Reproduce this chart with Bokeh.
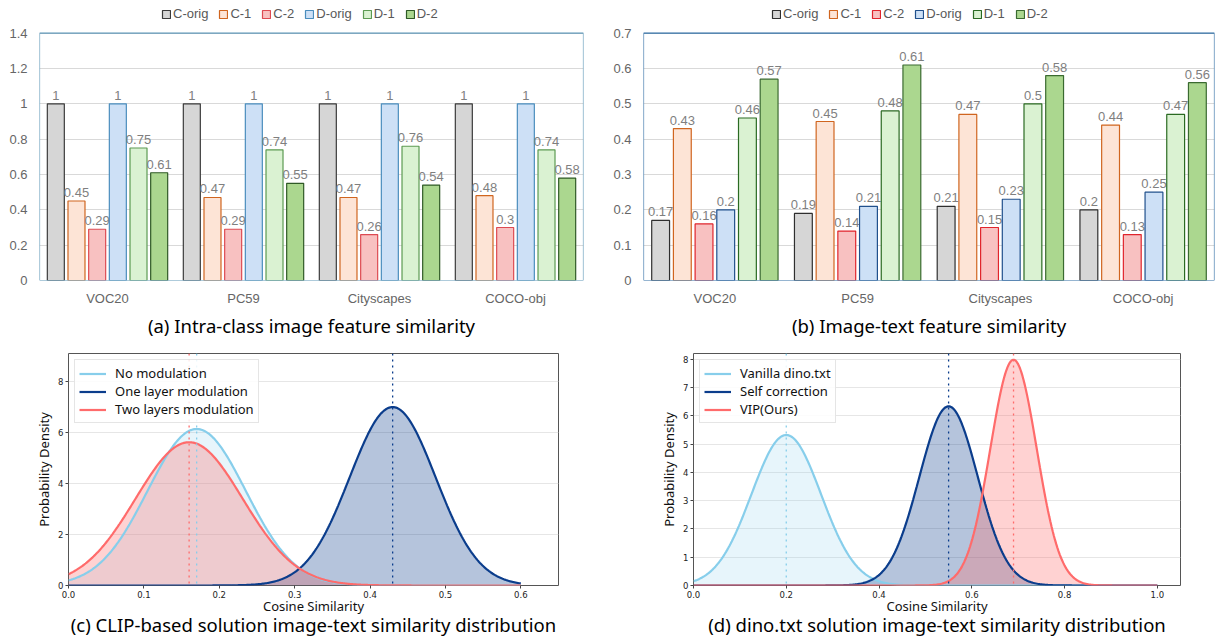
import numpy as np
from bokeh.plotting import figure
from bokeh.models import (FactorRange, Range1d, ColumnDataSource, Legend, LegendItem,
                          Span, NumeralTickFormatter, FixedTicker, BoxAnnotation, LinearAxis)
from bokeh.transform import dodge
from bokeh.layouts import row, column
from bokeh.embed import file_html
from bokeh.resources import INLINE
from bokeh.core.properties import value

# ---------------- data ----------------
datasets = ["VOC20", "PC59", "Cityscapes", "COCO-obj"]
series = ["C-orig", "C-1", "C-2", "D-orig", "D-1", "D-2"]

# (a) intra-class image feature similarity
intra_c_orig = [1, 1, 1, 1]
intra_c_1 = [0.45, 0.47, 0.47, 0.48]
intra_c_2 = [0.29, 0.29, 0.26, 0.3]
intra_d_orig = [1, 1, 1, 1]
intra_d_1 = [0.75, 0.74, 0.76, 0.74]
intra_d_2 = [0.61, 0.55, 0.54, 0.58]
intra_ticks = [0, 0.2, 0.4, 0.6, 0.8, 1.0, 1.2, 1.4]

# (b) image-text feature similarity
it_c_orig = [0.17, 0.19, 0.21, 0.2]
it_c_1 = [0.43, 0.45, 0.47, 0.44]
it_c_2 = [0.16, 0.14, 0.15, 0.13]
it_d_orig = [0.2, 0.21, 0.23, 0.25]
it_d_1 = [0.46, 0.48, 0.5, 0.47]
it_d_2 = [0.57, 0.61, 0.58, 0.56]
it_ticks = [0, 0.1, 0.2, 0.3, 0.4, 0.5, 0.6, 0.7]

# (c) CLIP-based distributions (normal: mean, std)
clip_names = ["No modulation", "One layer modulation", "Two layers modulation"]
clip_means = [0.17, 0.43, 0.16]
clip_sds = [0.065, 0.057, 0.071]
clip_xticks = [0.0, 0.1, 0.2, 0.3, 0.4, 0.5, 0.6]
clip_yticks = [0, 2, 4, 6, 8]

# (d) dino.txt distributions (normal: mean, std)
dino_names = ["Vanilla dino.txt", "Self correction", "VIP(Ours)"]
dino_means = [0.20, 0.55, 0.69]
dino_sds = [0.075, 0.063, 0.050]
dino_xticks = [0.0, 0.2, 0.4, 0.6, 0.8, 1.0]
dino_yticks = [0, 1, 2, 3, 4, 5, 6, 7, 8]

# ---------------- styles ----------------
BAR_FILLS = ["#d6d6d6", "#fde4d6", "#f8c1c1", "#cde0f6", "#daf2d2", "#abd78f"]
LINES_A = ["#3a3a3a", "#d0651f", "#dd4a52", "#4a8dbd", "#5c9a52", "#2f5a26"]
LINES_B = ["#2e2e2e", "#d0651f", "#e0242c", "#20508c", "#2a6a22", "#3a6a30"]
CURVE_COLS = ["#87CEEB", "#0b3d8c", "#FF6B6B"]
CURVE_ALPHA = [0.2, 0.3, 0.3]
PITCH = 0.152
BARW = 0.125
XFONT = "Liberation Sans"
CAPFONT = "Noto Sans"
CAPSIZE = "18.5px"


def bar_panel(vals, ymax, ticks, frame_col, line_cols, caption, width, height,
              mbl, mbr, top_px, bottom_px, leg_x):
    # extend the range above ymax so the legend row sits inside the canvas top
    frame_h = bottom_px - 5
    ytop = ymax * frame_h / (bottom_px - top_px)
    p = figure(x_range=FactorRange(*datasets), y_range=Range1d(0, ytop), title=None,
               width=width, height=height, output_backend="svg", toolbar_location=None,
               min_border_left=mbl, min_border_right=mbr, min_border_top=5,
               min_border_bottom=height - bottom_px)
    items = []
    for i, s in enumerate(series):
        src = ColumnDataSource(dict(x=datasets, top=vals[i],
                                    label=[f"{v:g}" for v in vals[i]]))
        off = (i - 2.5) * PITCH
        r = p.vbar(x=dodge("x", off, range=p.x_range), top="top", bottom=0, width=BARW,
                   fill_color=BAR_FILLS[i], line_color=line_cols[i], line_width=1.2,
                   source=src)
        p.text(x=dodge("x", off, range=p.x_range), y="top", text="label", source=src,
               text_align="center", text_baseline="bottom", y_offset=-4,
               text_font_size="13px", text_color="#7f7f7f", text_font=value(XFONT))
        items.append(LegendItem(label=s, renderers=[r]))
    leg = Legend(items=items, orientation="horizontal", location=(leg_x, frame_h - 19),
                 glyph_width=10, glyph_height=10, label_height=10, label_standoff=2,
                 spacing=10, padding=0, margin=0, border_line_color=None,
                 background_fill_alpha=0, label_text_font_size="13px",
                 label_text_color="#595959", label_text_font=XFONT)
    p.add_layout(leg)
    p.add_layout(BoxAnnotation(bottom=0, top=ymax, fill_alpha=0, line_color=frame_col,
                               line_width=1.2, line_alpha=1))
    p.outline_line_color = None
    p.xgrid.visible = False
    p.ygrid.grid_line_color = "#d9d9d9"
    p.ygrid.grid_line_width = 1
    p.yaxis.ticker = FixedTicker(ticks=ticks)
    p.yaxis.formatter = NumeralTickFormatter(format="0.[0]")
    for ax in (p.xaxis, p.yaxis):
        ax.axis_line_color = None
        ax.major_tick_line_color = None
        ax.minor_tick_line_color = None
        ax.major_tick_out = 0
        ax.major_tick_in = 0
        ax.major_label_text_font_size = "13px"
        ax.major_label_text_color = "#666666"
        ax.major_label_text_font = XFONT
    p.yaxis.major_label_standoff = 12
    p.xaxis.major_label_standoff = 10
    p.xaxis.axis_label = caption
    p.xaxis.axis_label_standoff = 4
    p.xaxis.axis_label_text_font = CAPFONT
    p.xaxis.axis_label_text_font_size = CAPSIZE
    p.xaxis.axis_label_text_font_style = "normal"
    p.xaxis.axis_label_text_color = "black"
    return p


def dist_panel(names, means, sds, xmax_data, xmax, ymax, xticks, yticks, caption,
               width, height, mbl, mbr, mbt, mbb, cap_bounds):
    p = figure(x_range=Range1d(0, xmax), y_range=Range1d(0, ymax), title=None,
               width=width, height=height, output_backend="svg", toolbar_location=None,
               min_border_left=mbl, min_border_right=mbr, min_border_top=mbt,
               min_border_bottom=mbb)
    xs = np.linspace(0, xmax_data, 400)
    curves = [np.exp(-0.5 * ((xs - means[i]) / sds[i]) ** 2) / (sds[i] * np.sqrt(2 * np.pi))
              for i in range(len(names))]
    for i in range(len(names)):
        p.varea(x=xs, y1=0, y2=curves[i], fill_color=CURVE_COLS[i], fill_alpha=CURVE_ALPHA[i])
    items = []
    for i, nm in enumerate(names):
        r = p.line(xs, curves[i], line_color=CURVE_COLS[i], line_width=2.2)
        items.append(LegendItem(label=nm, renderers=[r]))
        p.add_layout(Span(location=means[i], dimension="height", line_color=CURVE_COLS[i],
                          line_dash="dotted", line_width=1.3))
    leg = Legend(items=items, location="top_left", glyph_width=27, glyph_height=17,
                 label_height=17, label_standoff=9, spacing=0, padding=4, margin=6,
                 border_line_color="#cccccc", background_fill_color="white",
                 background_fill_alpha=0.85, label_text_font_size="13px",
                 label_text_font=CAPFONT, label_text_color="#111111")
    p.add_layout(leg)
    p.xgrid.visible = False
    p.ygrid.grid_line_color = "#e6e6e6"
    p.xaxis.ticker = FixedTicker(ticks=xticks)
    p.yaxis.ticker = FixedTicker(ticks=yticks)
    p.xaxis.formatter = NumeralTickFormatter(format="0.0")
    p.yaxis.formatter = NumeralTickFormatter(format="0")
    for ax in (p.xaxis, p.yaxis):
        ax.axis_line_color = None
        ax.major_tick_line_color = "#444444"
        ax.major_tick_out = 3
        ax.major_tick_in = 0
        ax.minor_tick_line_color = None
        ax.major_label_text_font_size = "8.5px"
        ax.major_label_text_color = "#222222"
        ax.major_label_text_font = "DejaVu Sans"
        ax.major_label_standoff = 2
        ax.axis_label_text_font_size = "13px"
        ax.axis_label_text_font = CAPFONT
        ax.axis_label_text_font_style = "normal"
        ax.axis_label_text_color = "#111111"
    p.xaxis.axis_label = "Cosine Similarity"
    p.yaxis.axis_label = "Probability Density"
    p.xaxis.axis_label_standoff = -4
    p.yaxis.axis_label_standoff = 2
    p.outline_line_color = "#555555"
    p.outline_line_width = 1
    # caption as a label-only axis below the x axis
    p.extra_x_ranges = {"cap": Range1d(0, 1)}
    cap = LinearAxis(x_range_name="cap", ticker=FixedTicker(ticks=[]), bounds=cap_bounds,
                     axis_label=caption, axis_line_color=None, major_tick_out=0,
                     major_tick_in=0, minor_tick_out=0, minor_tick_in=0,
                     major_label_standoff=0, axis_label_standoff=-6,
                     axis_label_text_font=CAPFONT, axis_label_text_font_size=CAPSIZE,
                     axis_label_text_font_style="normal", axis_label_text_color="black")
    p.add_layout(cap, "below")
    return p


pa = bar_panel([intra_c_orig, intra_c_1, intra_c_2, intra_d_orig, intra_d_1, intra_d_2],
               1.4, intra_ticks, "#5f97b8", LINES_A,
               "(a) Intra-class image feature similarity",
               610, 340, 39, 27, 33, 283, 122)
pb = bar_panel([it_c_orig, it_c_1, it_c_2, it_d_orig, it_d_1, it_d_2],
               0.7, it_ticks, "#2e6da4", LINES_B,
               "(b) Image-text feature similarity",
               605, 340, 29, 1, 33, 283, 128)
pc = dist_panel(clip_names, clip_means, clip_sds, 0.6, 0.65, 9.1, clip_xticks, clip_yticks,
                "(c) CLIP-based solution image-text similarity distribution",
                610, 299, 68, 52, 13, 53, (0, 0.947))
pd = dist_panel(dino_names, dino_means, dino_sds, 1.0, 1.05, 8.2, dino_xticks, dino_yticks,
                "(d) dino.txt solution image-text similarity distribution",
                605, 299, 83, 35, 13, 53, (0.006, 1.0))

layout = column(row(pa, pb), row(pc, pd))
open("out.html", "w").write(file_html(layout, INLINE))
